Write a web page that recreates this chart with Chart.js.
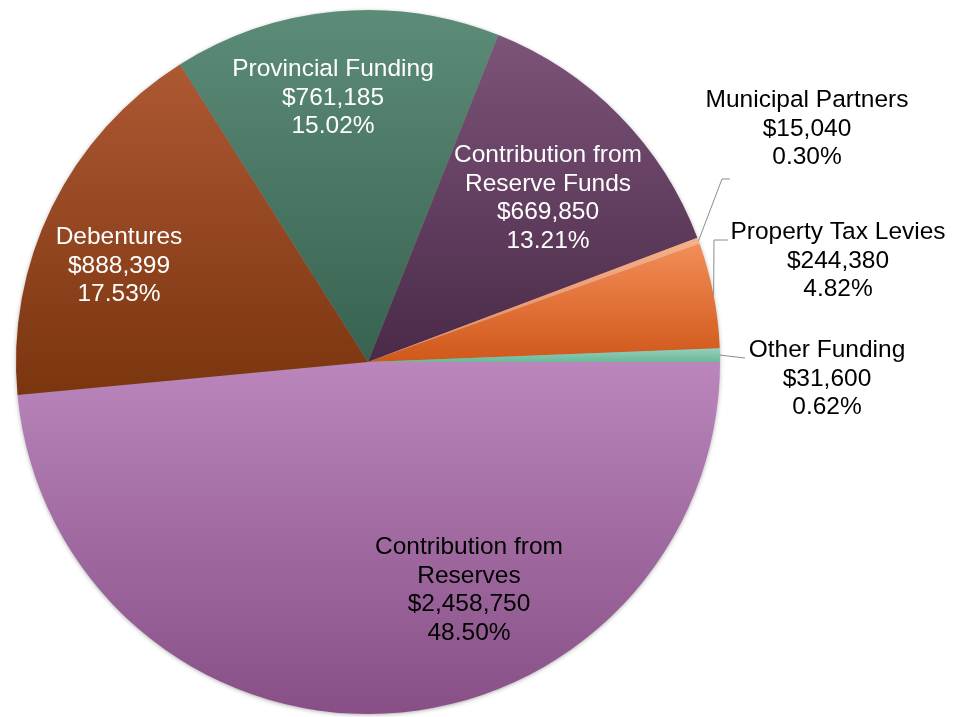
<!DOCTYPE html>
<html>
<head>
<meta charset="utf-8">
<script src="https://cdn.jsdelivr.net/npm/chart.js@4/dist/chart.umd.min.js"></script>
<style>
  html, body { margin: 0; padding: 0; background: #ffffff; }
  #wrap { position: relative; width: 954px; height: 717px; }
</style>
</head>
<body>
<div id="wrap"><canvas id="c"></canvas></div>
<script>
// ---- data ----
const categories = [
  ['Contribution from', 'Reserves'],
  ['Debentures'],
  ['Provincial Funding'],
  ['Contribution from', 'Reserve Funds'],
  ['Municipal Partners'],
  ['Property Tax Levies'],
  ['Other Funding']
];
const amounts = [2458750, 888399, 761185, 669850, 15040, 244380, 31600];
const amountLabels = ['$2,458,750', '$888,399', '$761,185', '$669,850', '$15,040', '$244,380', '$31,600'];
const percentLabels = ['48.50%', '17.53%', '15.02%', '13.21%', '0.30%', '4.82%', '0.62%'];

// ---- styles ----
const topColors    = ['#ba86bb', '#ad5833', '#5c8c78', '#7c5479', '#f6b088', '#f38d57', '#93d2b8'];
const bottomColors = ['#874f86', '#7a350f', '#386250', '#4a2a48', '#e5895a', '#d0581a', '#6db79a'];
const textColors   = ['#000000', '#ffffff', '#ffffff', '#ffffff', '#000000', '#000000', '#000000'];
// label block layout: center x offset and first-baseline y offset from pie center (px)
const labelLayout = [
  { dx: 101, dy: 192 },
  { dx: -249, dy: -118 },
  { dx: -35, dy: -286 },
  { dx: 180, dy: -200 },
  { dx: 439, dy: -255 },
  { dx: 470, dy: -123 },
  { dx: 459, dy: -5 }
];
// leader lines for outside labels: elbow/end point offsets from pie center (start comes from the arc)
const leaders = {
  4: [[354, -183], [362, -183]],
  5: [[346, -122], [360, -122]],
  6: [[377, -4]]
};
const ROTATION = 90;
const LINE_H = 28.5;
const FONT = '24.5px "Liberation Sans", Arial, sans-serif';

function sliceGradient(context) {
  const chart = context.chart;
  const i = context.dataIndex;
  const ca = chart.chartArea;
  if (!ca) return topColors[i];
  const meta = chart.getDatasetMeta(0);
  const r = (meta.controller && meta.controller.outerRadius) || Math.min(ca.width, ca.height) / 2;
  const cx = (ca.left + ca.right) / 2, cy = (ca.top + ca.bottom) / 2;
  const total = amounts.reduce((a, b) => a + b, 0);
  let a0 = -Math.PI / 2 + ROTATION * Math.PI / 180;
  for (let k = 0; k < i; k++) a0 += 2 * Math.PI * amounts[k] / total;
  const a1 = a0 + 2 * Math.PI * amounts[i] / total;
  const ys = [cy, cy + r * Math.sin(a0), cy + r * Math.sin(a1)];
  [Math.PI / 2, 3 * Math.PI / 2, 5 * Math.PI / 2].forEach(a => {
    if (a >= a0 && a <= a1) ys.push(cy + r * Math.sin(a));
  });
  const y0 = Math.min(...ys), y1 = Math.max(...ys);
  const g = chart.ctx.createLinearGradient(0, y0, 0, Math.max(y1, y0 + 1));
  g.addColorStop(0, topColors[i]);
  g.addColorStop(1, bottomColors[i]);
  return g;
}

const shadowPlugin = {
  id: 'pieShadow',
  beforeDatasetsDraw(chart) {
    const meta = chart.getDatasetMeta(0);
    const el = meta.data[0];
    if (!el) return;
    const ctx = chart.ctx;
    ctx.save();
    ctx.shadowColor = 'rgba(0,0,0,0.45)';
    ctx.shadowBlur = 5;
    ctx.shadowOffsetX = 0;
    ctx.shadowOffsetY = 1;
    ctx.fillStyle = '#a08aa0';
    ctx.beginPath();
    ctx.arc(el.x, el.y, el.outerRadius - 1, 0, Math.PI * 2);
    ctx.fill();
    ctx.restore();
  }
};

const labelPlugin = {
  id: 'sliceLabels',
  afterDatasetsDraw(chart) {
    const ctx = chart.ctx;
    const meta = chart.getDatasetMeta(0);
    ctx.save();
    ctx.font = FONT;
    ctx.textAlign = 'center';
    ctx.textBaseline = 'alphabetic';
    meta.data.forEach((arc, i) => {
      const cx = arc.x, cy = arc.y, r = arc.outerRadius;
      if (leaders[i]) {
        const mid = (arc.startAngle + arc.endAngle) / 2;
        ctx.strokeStyle = '#8c8c8c';
        ctx.lineWidth = 1;
        ctx.beginPath();
        ctx.moveTo(cx + r * Math.cos(mid), cy + r * Math.sin(mid));
        leaders[i].forEach(p => ctx.lineTo(cx + p[0], cy + p[1]));
        ctx.stroke();
      }
      const lines = categories[i].concat([amountLabels[i], percentLabels[i]]);
      const lx = cx + labelLayout[i].dx;
      const ly = cy + labelLayout[i].dy;
      ctx.fillStyle = textColors[i];
      lines.forEach((t, k) => ctx.fillText(t, lx, ly + k * LINE_H));
    });
    ctx.restore();
  }
};

new Chart(document.getElementById('c'), {
  type: 'pie',
  data: {
    labels: categories.map(c => c.join(' ')),
    datasets: [{
      data: amounts,
      backgroundColor: sliceGradient,
      borderWidth: 0
    }]
  },
  options: {
    responsive: true,
    maintainAspectRatio: false,
    animation: false,
    rotation: ROTATION,
    layout: { padding: { left: 16, right: 234, top: 10, bottom: 3 } },
    plugins: {
      legend: { display: false },
      tooltip: { enabled: false },
      title: { display: false }
    }
  },
  plugins: [shadowPlugin, labelPlugin]
});
</script>
</body>
</html>
